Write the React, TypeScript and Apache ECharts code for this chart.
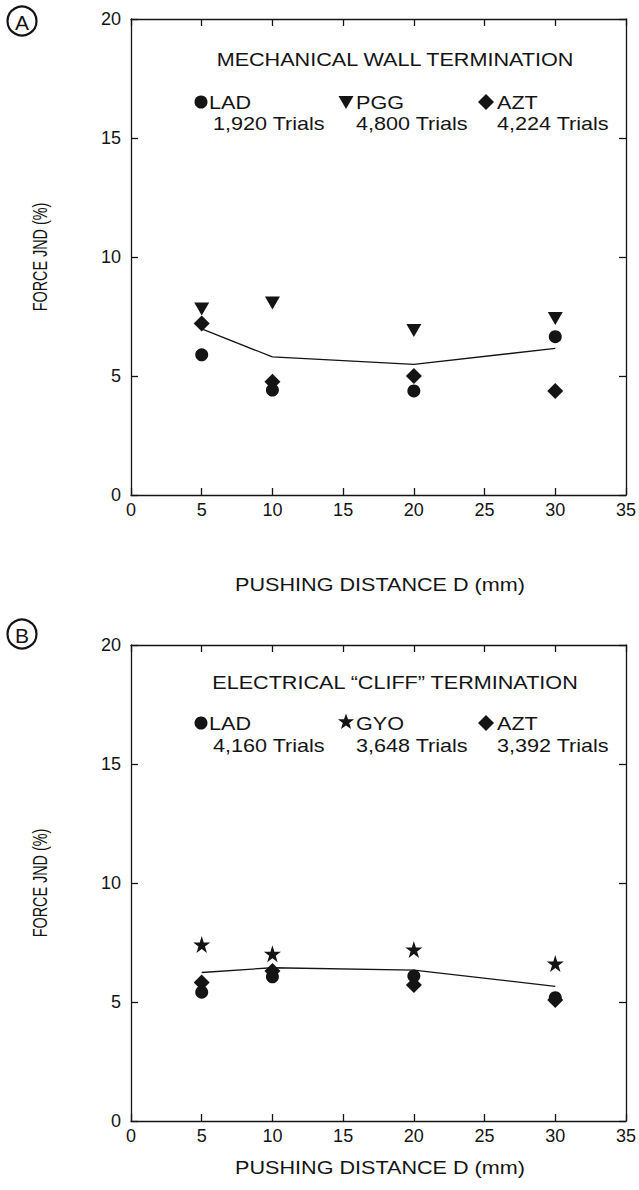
import React, { useEffect, useRef } from "react";
import * as echarts from "echarts";

// ---- data ----
const xTickValues = [0, 5, 10, 15, 20, 25, 30, 35];
const yTickValues = [0, 5, 10, 15, 20];
const distances = [5, 10, 20, 30];

// Panel A: mechanical wall termination
const aLAD = [5.89, 4.41, 4.37, 6.65];
const aPGG = [7.82, 8.07, 6.91, 7.42];
const aAZT = [7.21, 4.76, 5.0, 4.37];
const aMean = [6.98, 5.8, 5.49, 6.16];

// Panel B: electrical "cliff" termination
const bLAD = [5.41, 6.06, 6.09, 5.18];
const bGYO = [7.42, 7.03, 7.21, 6.62];
const bAZT = [5.82, 6.3, 5.71, 5.08];
const bMean = [6.24, 6.44, 6.34, 5.66];

const titleA = "MECHANICAL WALL TERMINATION";
const titleB = "ELECTRICAL \u201CCLIFF\u201D TERMINATION";
const legendA = [
  { name: "LAD", trials: "1,920 Trials" },
  { name: "PGG", trials: "4,800 Trials" },
  { name: "AZT", trials: "4,224 Trials" },
];
const legendB = [
  { name: "LAD", trials: "4,160 Trials" },
  { name: "GYO", trials: "3,648 Trials" },
  { name: "AZT", trials: "3,392 Trials" },
];
const xTitle = "PUSHING DISTANCE D (mm)";
const yTitle = "FORCE JND (%)";

// ---- style ----
const INK = "#141414";
const FONT = "'Liberation Sans', Arial, Helvetica, sans-serif";
const STAR =
  "path://M50,0 L61.2,34.5 L97.6,34.5 L68.2,55.9 L79.4,90.5 L50,69.1 L20.6,90.5 L31.8,55.9 L2.4,34.5 L38.8,34.5 Z";

const GRID_LEFT = 131;
const GRID_W = 498;
const GRID_H = 476;
const TOP_A = 19;
const TOP_B = 645;

function pair(xs: number[], ys: number[]) {
  return xs.map((x, i) => [x, ys[i]]);
}

function xAxis(gridIndex: number, position: "top" | "bottom", showLabel: boolean) {
  return {
    type: "value",
    gridIndex,
    position,
    min: xTickValues[0],
    max: xTickValues[xTickValues.length - 1],
    interval: 5,
    axisLine: { show: true, onZero: false, lineStyle: { color: INK, width: 1.3 } },
    axisTick: { show: true, inside: true, length: 7, lineStyle: { color: INK, width: 1.3 } },
    axisLabel: {
      show: showLabel,
      color: INK,
      fontSize: 18,
      fontFamily: FONT,
      margin: 6,
      showMinLabel: true,
      showMaxLabel: true,
    },
    splitLine: { show: false },
  };
}

function yAxis(gridIndex: number, position: "left" | "right", showLabel: boolean) {
  return {
    type: "value",
    gridIndex,
    position,
    min: yTickValues[0],
    max: yTickValues[yTickValues.length - 1],
    interval: 5,
    axisLine: { show: true, onZero: false, lineStyle: { color: INK, width: 1.3 } },
    axisTick: { show: true, inside: true, length: 7, lineStyle: { color: INK, width: 1.3 } },
    axisLabel: {
      show: showLabel,
      color: INK,
      fontSize: 18,
      fontFamily: FONT,
      margin: 10,
    },
    splitLine: { show: false },
  };
}

function starPoints(cx: number, cy: number, R: number) {
  const pts: number[][] = [];
  for (let i = 0; i < 10; i++) {
    const ang = -Math.PI / 2 + (i * Math.PI) / 5;
    const r = i % 2 === 0 ? R : R * 0.4;
    pts.push([cx + r * Math.cos(ang), cy + r * Math.sin(ang)]);
  }
  return pts;
}

function text(
  str: string,
  x: number,
  y: number,
  opts: { size?: number; align?: string; scaleX?: number; rotation?: number } = {}
) {
  const align = opts.align || "left";
  return {
    type: "text",
    x,
    y,
    rotation: opts.rotation || 0,
    scaleX: opts.scaleX || 1,
    scaleY: 1,
    silent: true,
    style: {
      text: str,
      fill: INK,
      fontSize: opts.size || 18,
      fontFamily: FONT,
      align,
      textAlign: align,
      verticalAlign: "middle",
      textVerticalAlign: "middle",
    },
  };
}

type PanelLayout = {
  top: number;
  letterY: number;
  titleY: number;
  rowY: number;
  trialsY: number;
  xTitleY: number;
};

function panelGraphics(
  lay: PanelLayout,
  letter: string,
  title: string,
  legend: { name: string; trials: string }[],
  second: "triangle" | "star"
) {
  const { rowY, trialsY } = lay;
  const els: any[] = [];
  // circled panel letter
  els.push({
    type: "circle",
    shape: { cx: 22, cy: lay.letterY, r: 14.5 },
    style: { fill: "none", stroke: INK, lineWidth: 2.2 },
    silent: true,
  });
  els.push(text(letter, 22, lay.letterY + 1, { size: 21, align: "center" }));
  // in-plot title
  els.push(text(title, 395, lay.titleY, { size: 18, align: "center", scaleX: 1.2 }));
  // legend markers
  els.push({
    type: "circle",
    shape: { cx: 201, cy: rowY, r: 6.5 },
    style: { fill: INK },
    silent: true,
  });
  if (second === "triangle") {
    els.push({
      type: "polygon",
      shape: {
        points: [
          [338.5, rowY - 6],
          [353.5, rowY - 6],
          [346, rowY + 7],
        ],
      },
      style: { fill: INK },
      silent: true,
    });
  } else {
    els.push({
      type: "polygon",
      shape: { points: starPoints(346, rowY - 1, 8.5) },
      style: { fill: INK },
      silent: true,
    });
  }
  els.push({
    type: "polygon",
    shape: {
      points: [
        [486, rowY - 8],
        [494, rowY],
        [486, rowY + 8],
        [478, rowY],
      ],
    },
    style: { fill: INK },
    silent: true,
  });
  const nameX = [209, 356, 497];
  const trialX = [213, 356, 497];
  legend.forEach((l, i) => {
    els.push(text(l.name, nameX[i], rowY + 1, { scaleX: 1.2 }));
    els.push(text(l.trials, trialX[i], trialsY, { scaleX: 1.2 }));
  });
  // axis titles
  els.push(
    text(yTitle, 40, lay.top + GRID_H / 2, { size: 20, align: "center", scaleX: 0.72, rotation: Math.PI / 2 })
  );
  els.push(text(xTitle, GRID_LEFT + GRID_W / 2, lay.xTitleY, { align: "center", scaleX: 1.2 }));
  return els;
}

function seriesFor(
  xi: number,
  yi: number,
  s1: number[],
  s2: number[],
  s2sym: "triangle" | "star",
  s3: number[],
  mean: number[],
  prefix: string,
  names: string[]
) {
  const item = { color: INK, opacity: 1 };
  return [
    {
      name: prefix + " mean",
      type: "line",
      xAxisIndex: xi,
      yAxisIndex: yi,
      data: pair(distances, mean),
      showSymbol: false,
      symbol: "none",
      lineStyle: { color: INK, width: 1.3 },
      z: 2,
    },
    {
      name: prefix + " " + names[0],
      type: "scatter",
      xAxisIndex: xi,
      yAxisIndex: yi,
      data: pair(distances, s1),
      symbol: "circle",
      symbolSize: 13,
      itemStyle: item,
      z: 3,
    },
    {
      name: prefix + " " + names[1],
      type: "scatter",
      xAxisIndex: xi,
      yAxisIndex: yi,
      data: pair(distances, s2),
      symbol: s2sym === "triangle" ? "triangle" : STAR,
      symbolRotate: s2sym === "triangle" ? 180 : 0,
      symbolSize: s2sym === "triangle" ? [15, 13] : 17,
      itemStyle: item,
      z: 3,
    },
    {
      name: prefix + " " + names[2],
      type: "scatter",
      xAxisIndex: xi,
      yAxisIndex: yi,
      data: pair(distances, s3),
      symbol: "diamond",
      symbolSize: [16, 16],
      itemStyle: item,
      z: 3,
    },
  ];
}

export default function App() {
  const ref = useRef<HTMLDivElement>(null);
  useEffect(() => {
    document.body.style.margin = "0";
    const chart = echarts.init(ref.current as HTMLDivElement, null, { renderer: "svg" });
    const layA: PanelLayout = { top: TOP_A, letterY: 21, titleY: 60, rowY: 102, trialsY: 124, xTitleY: 585 };
    const layB: PanelLayout = { top: TOP_B, letterY: 634, titleY: 683, rowY: 723, trialsY: 746, xTitleY: 1168 };
    const option = {
      animation: false,
      backgroundColor: "#ffffff",
      grid: [
        { left: GRID_LEFT, top: TOP_A, width: GRID_W, height: GRID_H },
        { left: GRID_LEFT, top: TOP_B, width: GRID_W, height: GRID_H },
      ],
      xAxis: [
        xAxis(0, "bottom", true),
        xAxis(0, "top", false),
        xAxis(1, "bottom", true),
        xAxis(1, "top", false),
      ],
      yAxis: [
        yAxis(0, "left", true),
        yAxis(0, "right", false),
        yAxis(1, "left", true),
        yAxis(1, "right", false),
      ],
      series: [
        ...seriesFor(0, 0, aLAD, aPGG, "triangle", aAZT, aMean, "A", ["LAD", "PGG", "AZT"]),
        ...seriesFor(2, 2, bLAD, bGYO, "star", bAZT, bMean, "B", ["LAD", "GYO", "AZT"]),
      ],
      graphic: [
        ...panelGraphics(layA, "A", titleA, legendA, "triangle"),
        ...panelGraphics(layB, "B", titleB, legendB, "star"),
      ],
    };
    chart.setOption(option as any);
    return () => chart.dispose();
  }, []);
  return <div ref={ref} style={{ width: 639, height: 1190 }} />;
}
